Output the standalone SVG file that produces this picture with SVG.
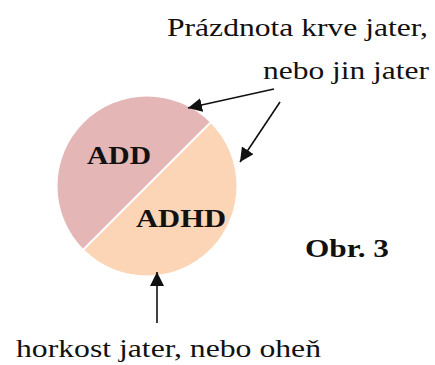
<svg xmlns="http://www.w3.org/2000/svg" width="435" height="365" viewBox="0 0 435 365">
<style>
text{font-family:'Liberation Serif','Times New Roman',Times,serif;font-size:25px;fill:#111}
.b{font-weight:bold}
.c{stroke:#111;stroke-width:1.6;fill:none}
</style>
<defs>
<marker id="ah" markerUnits="userSpaceOnUse" markerWidth="16" markerHeight="16" refX="14" refY="7" orient="auto">
<path d="M0,0 L14,7 L0,14 Z" fill="#111"/>
</marker>
</defs>
<rect width="435" height="365" fill="#fff"/>
<g id="pie">
<path d="M210.3,122.7 A89.5,89.5 0 0 0 83.7,249.3 Z" fill="#E4B6B6"/>
<path d="M83.7,249.3 A89.5,89.5 0 0 0 210.3,122.7 Z" fill="#FBD5B5"/>
<line x1="210.3" y1="122.7" x2="83.7" y2="249.3" stroke="#fff" stroke-width="2"/>
</g>
<g id="add"><text class="b" x="87" y="164" textLength="64" lengthAdjust="spacingAndGlyphs">ADD</text></g>
<g id="adhd"><text class="b" x="136" y="227" textLength="90" lengthAdjust="spacingAndGlyphs">ADHD</text></g>
<g id="obr"><text class="b" x="305" y="257" textLength="84" lengthAdjust="spacingAndGlyphs">Obr. 3</text></g>
<g id="top-label">
<text x="167" y="36" textLength="261" lengthAdjust="spacingAndGlyphs">Prázdnota krve jater,</text>
<text x="263" y="79" textLength="166" lengthAdjust="spacingAndGlyphs">nebo jin jater</text>
</g>
<g id="bottom-label"><text x="16" y="357" textLength="305" lengthAdjust="spacingAndGlyphs">horkost jater, nebo oheň</text></g>
<g id="connectors">
<line class="c" x1="274" y1="89" x2="188" y2="108" marker-end="url(#ah)"/>
<line class="c" x1="280" y1="102" x2="240" y2="162" marker-end="url(#ah)"/>
<line class="c" x1="157" y1="323" x2="157" y2="272" marker-end="url(#ah)"/>
</g>
</svg>
